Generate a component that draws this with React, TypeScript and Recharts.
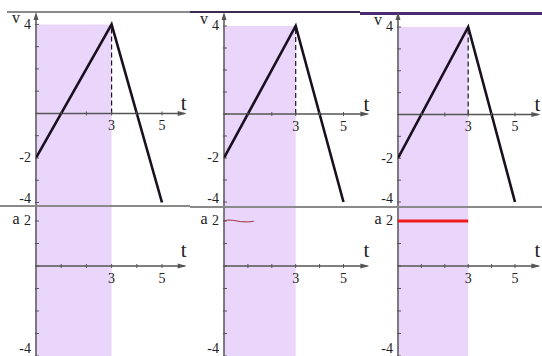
import React from 'react';
import {
  LineChart,
  Line,
  XAxis,
  YAxis,
  ReferenceArea,
  ReferenceLine,
  ReferenceDot,
} from 'recharts';

// v-t graph: corners of the velocity polyline
const velocityTimes = [0, 3, 5];
const velocityValues = [-2, 4, -4];

// a-t graph, middle column: short freehand stroke near a = 2
const sketchTimes = [0, 0.15, 0.4, 0.7, 1.0, 1.25];
const sketchValues = [2.0, 2.04, 2.03, 1.97, 1.96, 1.99];

// a-t graph, right column: constant acceleration while speeding up
const accelTimes = [0, 3];
const accelValues = [2, 2];

const vTicks = [-4, -3, -2, -1, 0, 1, 2, 3, 4];
const vTickLabels = [4, -2, -4];
const aTicks = [-4, -3, -2, -1, 0, 1, 2];
const aTickLabels = [2, -4];
const tTicks = [1, 2, 3, 4, 5];
const tTickLabels = [3, 5];

const shadeFrom = 0;
const shadeTo = 3;
const peakTime = 3;
const peakVelocity = 4;

const velocityData = velocityTimes.map((t, i) => ({ t, y: velocityValues[i] }));
const sketchData = sketchTimes.map((t, i) => ({ t, y: sketchValues[i] }));
const accelData = accelTimes.map((t, i) => ({ t, y: accelValues[i] }));

const FONT = '"Liberation Serif", "DejaVu Serif", serif';
const AXIS = '#555';
const INK = '#1a1020';
const SHADE = 'rgb(185,118,242)';
const Y_W = 34;
const T_MAX = 6.3;

type Col = {
  axisX: number;
  unitX: number;
  v4Y: number;
  vm4Y: number;
  tEnd: number;
  accel: 'none' | 'sketch' | 'line';
};

const columns: Col[] = [
  { axisX: 35.5, unitX: 25.2, v4Y: 24.4, vm4Y: 202.5, tEnd: 5.9, accel: 'none' },
  { axisX: 224, unitX: 23.9, v4Y: 26, vm4Y: 202, tEnd: 6.0, accel: 'sketch' },
  { axisX: 398, unitX: 23.4, v4Y: 27, vm4Y: 202, tEnd: 6.0, accel: 'line' },
];

const DIVIDER_Y = 206;
const A0_Y = 266;
const A_UNIT = 22.5;
const BOTTOM_Y = 356;

const text = (x: number, y: number, s: string, size: number, anchor = 'middle') => (
  <text x={x} y={y} fontFamily={FONT} fontSize={size} fill="#222" textAnchor={anchor}>
    {s}
  </text>
);

interface GraphProps {
  col: Col;
  top: number;
  height: number;
  yMin: number;
  yMax: number;
  yTicks: number[];
  yLabels: number[];
  name: string;
  nameAt: number;
  nameDy: number;
  shadeTop: number;
  labelFloor: number;
  arrowTop?: number;
  tLabelLift: number;
  children?: React.ReactNode;
}

function Graph({
  col, top, height, yMin, yMax, yTicks, yLabels, name, nameAt, nameDy, shadeTop, labelFloor, arrowTop, tLabelLift, children,
}: GraphProps) {
  const width = Y_W + T_MAX * col.unitX;
  const yTick = (p: any) => {
    const { x, y, payload } = p;
    const show = yLabels.includes(payload.value);
    // keep the lowest label inside the panel
    const ty = Math.min(y, labelFloor);
    return (
      <g>
        <line x1={x - 1} x2={x + 3} y1={y} y2={y} stroke={AXIS} strokeWidth={1} />
        {show && text(x - 5, ty + 4.5, String(payload.value), 14, 'end')}
      </g>
    );
  };
  return (
    <div style={{ position: 'absolute', left: col.axisX - Y_W, top }}>
      <LineChart
        width={width}
        height={height}
        margin={{ top: 0, right: 0, bottom: 0, left: 0 }}
        style={{ overflow: 'visible' }}
      >
        <XAxis type="number" dataKey="t" domain={[0, T_MAX]} allowDataOverflow hide />
        <YAxis
          type="number"
          domain={[yMin, yMax]}
          allowDataOverflow
          ticks={yTicks}
          interval={0}
          width={Y_W}
          axisLine={false}
          tickLine={false}
          tickSize={0}
          tickMargin={0}
          tick={yTick}
        />
        <ReferenceLine
          segment={[{ x: 0, y: yMin }, { x: 0, y: arrowTop ?? yMax }]}
          stroke={AXIS}
          strokeWidth={1.5}
        />
        {arrowTop !== undefined && (
          <ReferenceDot
            x={0}
            y={arrowTop}
            shape={({ cx, cy }: any) => (
              <path d={`M${cx},${cy - 3} L${cx - 2.5},${cy + 5} L${cx + 2.5},${cy + 5} Z`} fill={AXIS} />
            )}
          />
        )}
        <ReferenceLine
          segment={[{ x: 0, y: 0 }, { x: col.tEnd, y: 0 }]}
          stroke={AXIS}
          strokeWidth={1.5}
        />
        <ReferenceDot
          x={col.tEnd}
          y={0}
          shape={({ cx, cy }: any) => (
            <g>
              <path d={`M${cx + 2},${cy} L${cx - 7},${cy - 2.5} L${cx - 7},${cy + 2.5} Z`} fill={AXIS} />
              {text(cx - 1, cy - tLabelLift, 't', 21)}
            </g>
          )}
        />
        {tTicks.map((t) => (
          <ReferenceDot
            key={t}
            x={t}
            y={0}
            shape={({ cx, cy }: any) => (
              <g>
                <line x1={cx} x2={cx} y1={cy - 2} y2={cy + 2} stroke={AXIS} strokeWidth={1} />
                {tTickLabels.includes(t) && text(cx, cy + 17, String(t), 14)}
              </g>
            )}
          />
        ))}
        <ReferenceDot
          x={0}
          y={nameAt}
          shape={({ cx, cy }: any) => text(cx - 20, cy + nameDy, name, 16)}
        />
        {children}
        <ReferenceArea
          x1={shadeFrom}
          x2={shadeTo}
          y1={yMin}
          y2={shadeTop}
          fill={SHADE}
          fillOpacity={0.3}
          stroke="none"
        />
      </LineChart>
    </div>
  );
}

function Column({ col }: { col: Col }) {
  const unitV = (col.vm4Y - col.v4Y) / 8;
  const vMax = 4 + col.v4Y / unitV;
  const vMin = -4 - (DIVIDER_Y - col.vm4Y) / unitV;
  const aMax = (A0_Y - DIVIDER_Y) / A_UNIT;
  const aMin = -(BOTTOM_Y - A0_Y) / A_UNIT;
  const aHeight = BOTTOM_Y - DIVIDER_Y;
  return (
    <>
      <Graph
        col={col}
        top={0}
        height={DIVIDER_Y}
        yMin={vMin}
        yMax={vMax}
        yTicks={vTicks}
        yLabels={vTickLabels}
        name="v"
        nameAt={4}
        nameDy={-1.5}
        shadeTop={4}
        labelFloor={199}
        arrowTop={4 + (col.v4Y - 15) / unitV}
        tLabelLift={3}
      >
        <ReferenceLine
          segment={[{ x: peakTime, y: 0 }, { x: peakTime, y: peakVelocity }]}
          stroke={INK}
          strokeWidth={1.2}
          strokeDasharray="5 3"
        />
        <Line
          data={velocityData}
          dataKey="y"
          type="linear"
          stroke={INK}
          strokeWidth={2.6}
          dot={false}
          isAnimationActive={false}
        />
      </Graph>
      <Graph
        col={col}
        top={DIVIDER_Y}
        height={aHeight}
        yMin={aMin}
        yMax={aMax}
        yTicks={aTicks}
        yLabels={aTickLabels}
        name="a"
        nameAt={2}
        nameDy={3}
        shadeTop={aMax}
        labelFloor={aHeight - 7}
        tLabelLift={9}
      >
        {col.accel === 'sketch' && (
          <Line
            data={sketchData}
            dataKey="y"
            type="monotone"
            stroke="#a03040"
            strokeWidth={1}
            dot={false}
            isAnimationActive={false}
          />
        )}
      </Graph>
      {col.accel === 'line' && (
        <div style={{ position: 'absolute', left: col.axisX - Y_W, top: DIVIDER_Y }}>
          <LineChart
            width={Y_W + T_MAX * col.unitX}
            height={aHeight}
            margin={{ top: 0, right: 0, bottom: 0, left: 0 }}
          >
            <XAxis type="number" dataKey="t" domain={[0, T_MAX]} allowDataOverflow hide />
            <YAxis type="number" domain={[aMin, aMax]} allowDataOverflow width={Y_W} tick={false} axisLine={false} tickLine={false} />
            <Line
              data={accelData}
              dataKey="y"
              type="linear"
              stroke="#ee1c1c"
              strokeWidth={3}
              dot={false}
              isAnimationActive={false}
            />
          </LineChart>
        </div>
      )}
    </>
  );
}

const rule = (left: number, width: number, top: number, h: number, color: string) => (
  <div style={{ position: 'absolute', left, width, top, height: h, background: color }} />
);

export default function App() {
  return (
    <div
      style={{
        position: 'absolute',
        left: 0,
        top: 0,
        width: 542,
        height: 356,
        overflow: 'hidden',
        background: '#fff',
      }}
    >
      {rule(7, 183, 11, 1.5, '#8a8a8a')}
      {rule(190, 170, 11, 2, '#3c2a50')}
      {rule(360, 182, 11.5, 3, '#4a2a70')}
      {columns.map((col, i) => (
        <Column key={i} col={col} />
      ))}
      {rule(0, 190, 205, 2, '#8a8a8a')}
      {rule(190, 352, 206, 2, '#8a8a8a')}
    </div>
  );
}
